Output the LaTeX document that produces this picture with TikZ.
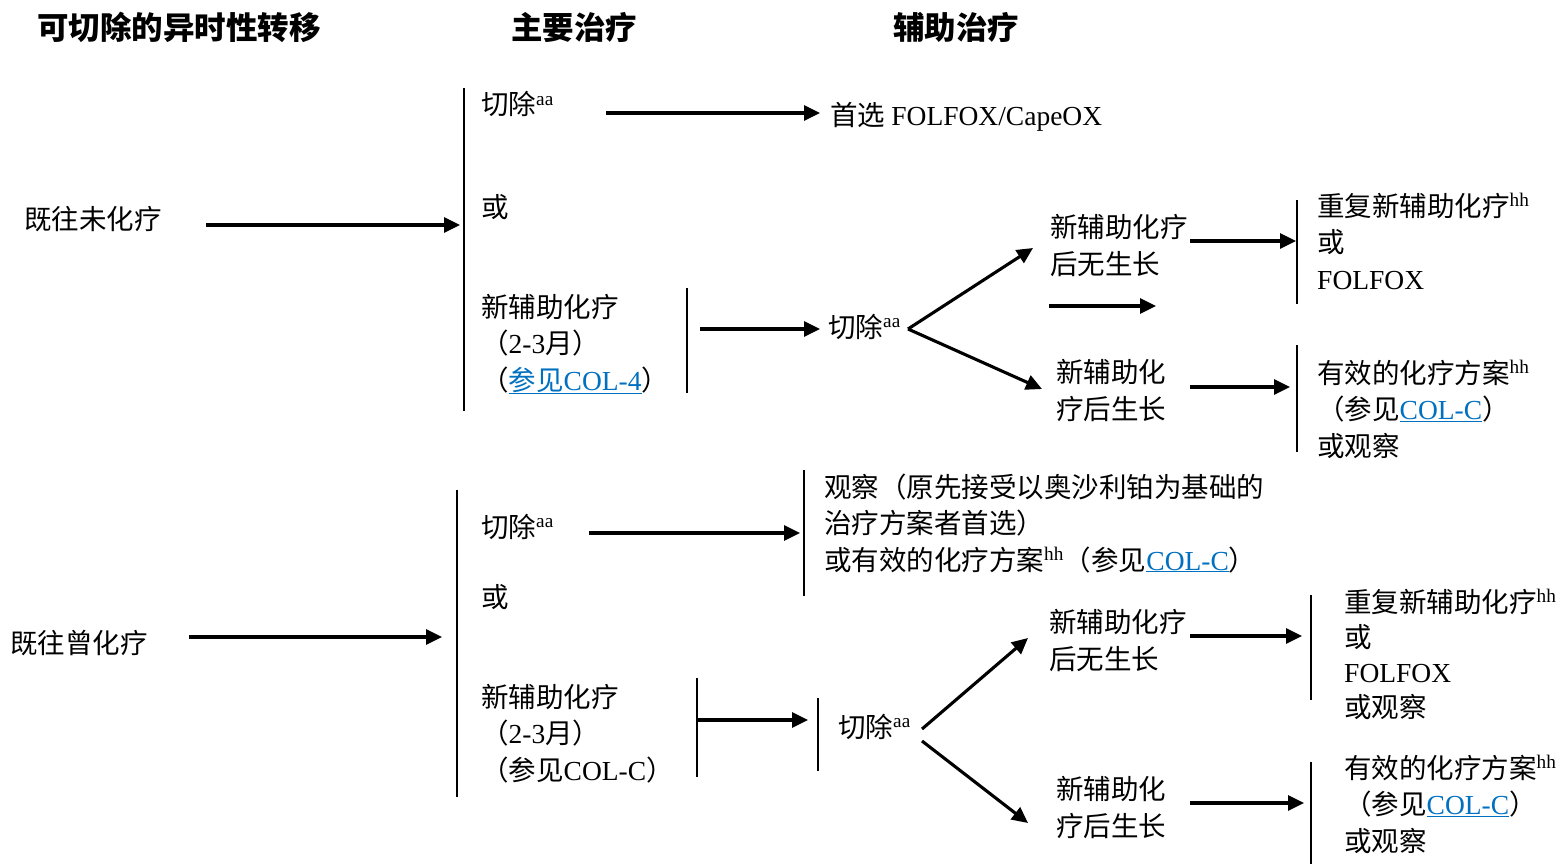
\documentclass[tikz,border=0pt]{standalone}
\usepackage{fontspec}
\setmainfont{Noto Sans CJK SC}
\newfontfamily\lat{Liberation Serif}
\usetikzlibrary{arrows.meta}
\definecolor{linkblue}{HTML}{0070C0}
\newcommand\lnk[1]{{\color{linkblue}\underline{#1}}}
\newcommand\sps[1]{\textsuperscript{\lat #1}}
\tikzset{
  txt/.style={anchor=base west, inner sep=0pt, align=left, font=\fontsize{27.5}{36.5}\selectfont},
  hdr/.style={anchor=west, inner sep=0pt, font=\fontsize{31.5}{36}\selectfont\bfseries},
  arr/.style={line width=3.1pt, -{Triangle[length=16pt,width=15pt]}},
  bar/.style={line width=1.9pt},
}
\begin{document}
\begin{tikzpicture}[x=1pt,y=-1pt]
\useasboundingbox[fill=white] (0,0) rectangle (1560,864);
% headers
\node[hdr] (h1) at (37,27) {可切除的异时性转移};
\node[hdr] (h2) at (511,27) {主要治疗};
\node[hdr] (h3) at (893,27) {辅助治疗};
% ===== top section
\node[txt] (n1) at (24,229) {既往未化疗};
\coordinate (a1s) at (206,225); \coordinate (a1e) at (460,225);
\draw[arr] (a1s) -- (a1e);
\coordinate (v1t) at (464,88); \coordinate (v1b) at (464,411);
\draw[bar] (v1t) -- (v1b);
\node[txt] (r1) at (481,115) {切除\sps{aa}};
\coordinate (a2s) at (606,113); \coordinate (a2e) at (820,113);
\draw[arr] (a2s) -- (a2e);
\node[txt] (p1) at (830,125) {首选 {\lat FOLFOX/CapeOX}};
\node[txt] (or1) at (481,217) {或};
\node[txt] (nc1) at (481,390) {新辅助化疗\\（{\lat 2-3}月）\\（\lnk{参见{\lat COL-4}}）};
\coordinate (v2t) at (687,288); \coordinate (v2b) at (687,393);
\draw[bar] (v2t) -- (v2b);
\coordinate (a3s) at (700,329); \coordinate (a3e) at (820,329);
\draw[arr] (a3s) -- (a3e);
\node[txt] (r2) at (828,337) {切除\sps{aa}};
\coordinate (f1) at (908,329);
\coordinate (f1u) at (1033,248); \coordinate (f1d) at (1042,389);
\draw[arr] (f1) -- (f1u);
\draw[arr] (f1) -- (f1d);
\node[txt] (ng1) at (1050,274) {新辅助化疗\\后无生长};
\coordinate (a4s) at (1190,241); \coordinate (a4e) at (1296,241);
\draw[arr] (a4s) -- (a4e);
\coordinate (a5s) at (1049,306); \coordinate (a5e) at (1156,306);
\draw[arr] (a5s) -- (a5e);
\coordinate (v3t) at (1297,200); \coordinate (v3b) at (1297,304);
\draw[bar] (v3t) -- (v3b);
\node[txt] (o1) at (1317,289) {重复新辅助化疗\sps{hh}\\或\\{\lat FOLFOX}};
\node[txt] (g1) at (1056,419) {新辅助化\\疗后生长};
\coordinate (a6s) at (1190,387); \coordinate (a6e) at (1290,387);
\draw[arr] (a6s) -- (a6e);
\coordinate (v4t) at (1297,345); \coordinate (v4b) at (1297,452);
\draw[bar] (v4t) -- (v4b);
\node[txt] (o2) at (1317,456) {有效的化疗方案\sps{hh}\\（参见\lnk{\lat COL-C}）\\或观察};
% ===== bottom section
\node[txt] (n2) at (10,653) {既往曾化疗};
\coordinate (b1s) at (189,637); \coordinate (b1e) at (442,637);
\draw[arr] (b1s) -- (b1e);
\coordinate (w1t) at (457,490); \coordinate (w1b) at (457,797);
\draw[bar] (w1t) -- (w1b);
\node[txt] (r3) at (481,537) {切除\sps{aa}};
\coordinate (b2s) at (589,533); \coordinate (b2e) at (800,533);
\draw[arr] (b2s) -- (b2e);
\coordinate (w2t) at (804,470); \coordinate (w2b) at (804,596);
\draw[bar] (w2t) -- (w2b);
\node[txt] (p2) at (824,570) {观察（原先接受以奥沙利铂为基础的\\治疗方案者首选）\\或有效的化疗方案\sps{hh}（参见\lnk{\lat COL-C}）};
\node[txt] (or2) at (481,607) {或};
\node[txt] (nc2) at (481,780) {新辅助化疗\\（{\lat 2-3}月）\\（参见{\lat COL-C}）};
\coordinate (w3t) at (697,678); \coordinate (w3b) at (697,777);
\draw[bar] (w3t) -- (w3b);
\coordinate (b3s) at (697,720); \coordinate (b3e) at (808,720);
\draw[arr] (b3s) -- (b3e);
\coordinate (w4t) at (818,698); \coordinate (w4b) at (818,771);
\draw[bar] (w4t) -- (w4b);
\node[txt] (r4) at (838,737) {切除\sps{aa}};
\coordinate (g2u) at (922,729); \coordinate (g2d) at (922,741);
\coordinate (g2ue) at (1028,638); \coordinate (g2de) at (1028,823);
\draw[arr] (g2u) -- (g2ue);
\draw[arr] (g2d) -- (g2de);
\node[txt] (ng2) at (1049,669) {新辅助化疗\\后无生长};
\coordinate (b4s) at (1190,636); \coordinate (b4e) at (1302,636);
\draw[arr] (b4s) -- (b4e);
\coordinate (w5t) at (1311,595); \coordinate (w5b) at (1311,700);
\draw[bar] (w5t) -- (w5b);
\node[txt, font=\fontsize{27.5}{35}\selectfont] (o3) at (1344,717) {重复新辅助化疗\sps{hh}\\或\\{\lat FOLFOX}\\或观察};
\node[txt] (g2) at (1056,836) {新辅助化\\疗后生长};
\coordinate (b5s) at (1190,803); \coordinate (b5e) at (1304,803);
\draw[arr] (b5s) -- (b5e);
\coordinate (w6t) at (1311,762); \coordinate (w6b) at (1311,864);
\draw[bar] (w6t) -- (w6b);
\node[txt] (o4) at (1344,851) {有效的化疗方案\sps{hh}\\（参见\lnk{\lat COL-C}）\\或观察};
\end{tikzpicture}
\end{document}
